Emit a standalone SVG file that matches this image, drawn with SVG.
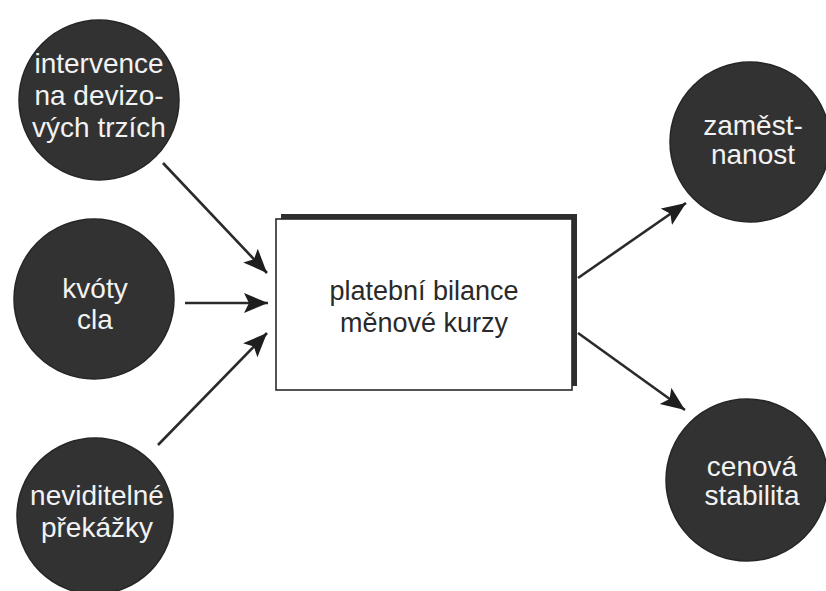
<svg xmlns="http://www.w3.org/2000/svg" width="826" height="591" viewBox="0 0 826 591">
  <defs>
    <marker id="ah" markerUnits="userSpaceOnUse" markerWidth="26" markerHeight="22" refX="24" refY="10" orient="auto">
      <path d="M0,0 L24,10 L0,20 L5,10 Z" fill="#1e1e1e"/>
    </marker>
  </defs>
  <style>
    .node circle { fill: #323232; stroke: #262626; stroke-width: 1.5; }
    .node text { font-family: "Liberation Sans", Arial, sans-serif; font-size: 28px; fill: #f2f2f2; text-anchor: middle; }
    .box text { font-family: "Liberation Sans", Arial, sans-serif; font-size: 27px; fill: #2a2a2a; text-anchor: middle; }
    .conn line { stroke: #2a2a2a; stroke-width: 2.6; marker-end: url(#ah); }
  </style>
  <rect width="826" height="591" fill="#ffffff"/>

  <g id="n-intervence" class="node">
    <circle cx="99" cy="100" r="80"/>
    <text x="99" y="73">intervence</text>
    <text x="99" y="105">na devizo-</text>
    <text x="99" y="137">vých trzích</text>
  </g>
  <g id="n-kvoty" class="node">
    <circle cx="94" cy="299" r="80"/>
    <text x="95" y="298">kvóty</text>
    <text x="95" y="329">cla</text>
  </g>
  <g id="n-neviditelne" class="node">
    <circle cx="95" cy="516" r="78"/>
    <text x="97" y="505">neviditelné</text>
    <text x="97" y="537">překážky</text>
  </g>
  <g id="n-zamestnanost" class="node">
    <circle cx="750" cy="142" r="80"/>
    <text x="753" y="135">zaměst-</text>
    <text x="753" y="164">nanost</text>
  </g>
  <g id="n-cenova" class="node">
    <circle cx="747" cy="480" r="81"/>
    <text x="752" y="476">cenová</text>
    <text x="752" y="505">stabilita</text>
  </g>

  <g id="n-bilance" class="box">
    <rect x="281" y="214" width="296" height="172" fill="#2e2e2e"/>
    <rect x="276" y="219" width="296" height="171" fill="#ffffff" stroke="#2a2a2a" stroke-width="1.6"/>
    <text x="424" y="300">platební bilance</text>
    <text x="424" y="332">měnové kurzy</text>
  </g>

  <g id="connectors" class="conn">
    <line x1="163" y1="163" x2="267" y2="273"/>
    <line x1="185" y1="303" x2="268" y2="303"/>
    <line x1="158" y1="445" x2="267" y2="333"/>
    <line x1="578" y1="278" x2="686" y2="203"/>
    <line x1="578" y1="333" x2="685" y2="410"/>
  </g>
</svg>
